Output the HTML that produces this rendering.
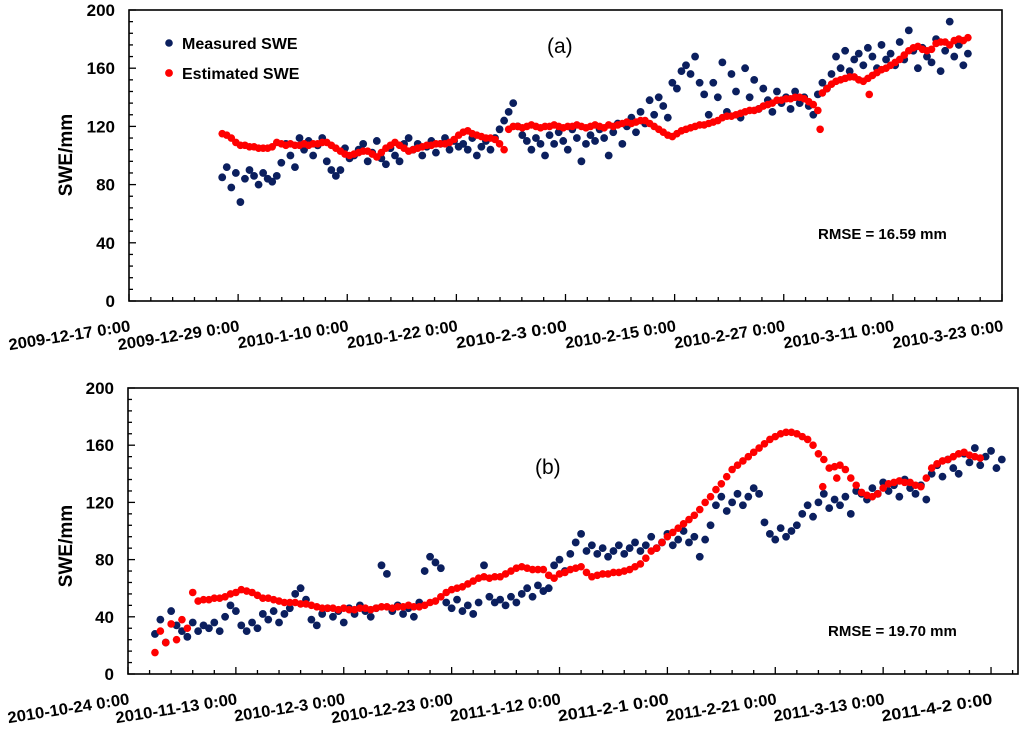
<!DOCTYPE html>
<html><head><meta charset="utf-8"><style>
body{margin:0;background:#fff;}
svg{display:block;font-family:"Liberation Sans",sans-serif;}
</style></head><body>
<svg id="c" width="1024" height="739" viewBox="0 0 1024 739"></svg>
<script>
// Panel (a) data: start day 10.25 after 2009-12-17, step 0.5 day
const measuredA = [85,92,78,88,68,84,90,86,80,88,84,82,86,
95,108,100,92,112,
104,110,100,107,112,96,90,
86,90,105,98,
100,104,108,96,102,110,98,94,105,100,96,108,
112,104,108,100,106,110,102,108,112,104,110,106,
108,104,112,100,106,110,104,112,
118,124,130,136,120,114,
110,104,112,108,100,114,108,116,110,104,118,112,96,108,114,110,118,112,
100,116,122,108,120,126,116,130,122,138,128,
140,134,126,150,146,158,162,156,168,150,142,
128,150,140,164,130,156,144,126,160,140,152,132,146,
138,130,144,136,140,132,144,
136,140,134,128,142,150,146,156,
168,160,172,158,166,170,162,174,168,160,176,166,
170,162,178,166,186,172,160,174,168,164,180,158,172,192,168,176,162,170];
const estimatedA = [115,114,112,109,107,107,106,106,105,105,105,106,109,108,107,108,107,107,108,107,108,108,109,109,107,105,103,101,100,101,102,103,103,101,99,102,105,107,109,107,105,103,104,105,106,107,107,108,108,108,109,111,114,116,117,115,114,113,112,112,111,108,104,118,120,
120,119,120,121,120,119,120,120,121,120,119,120,120,121,
120,119,120,121,120,119,121,120,121,122,123,122,123,124,124,122,120,118,116,114,113,115,117,118,119,120,121,121,122,123,124,126,127,127,128,129,130,131,131,132,134,135,136,138,138,139,139,140,140,139,137,135,131,143,146,149,151,152,153,154,154,152,151,153,155,157,159,160,162,164,166,169,172,174,175,173,172,173,177,178,178,176,179,180,179,181];
const outlierDaysA = [76.0, 81.4];
const outlierValsA = [118, 142];
// Panel (b) data: start day 5 after 2010-10-24, step 1 day
const measuredB = [28,38,22,44,34,30,26,36,30,34,32,36,30,40,48,44,34,30,36,32,42,38,44,36,42,46,56,60,52,38,34,42,46,40,44,36,46,42,48,44,40,46,76,70,44,48,42,46,40,50,72,82,78,74,50,46,52,44,48,42,50,76,54,50,52,48,54,50,56,60,54,62,58,60,76,80,72,84,92,98,86,90,84,88,82,86,90,84,88,92,86,90,96,88,92,98,90,94,100,92,96,82,94,104,118,124,114,120,126,118,124,130,126,106,98,94,102,96,100,104,112,118,110,120,126,116,122,118,124,112,128,126,122,130,126,134,128,132,124,136,130,126,132,122,140,146,138,150,144,140,154,148,158,146,152,156,144,150];
const estimatedB = [15,30,22,35,24,38,32,57,51,52,52,53,53,54,56,57,59,58,57,55,53,53,52,51,50,50,50,49,49,48,47,46,46,46,45,46,45,45,46,46,45,46,47,47,46,47,47,48,47,47,48,50,51,54,57,59,60,61,63,65,67,68,67,68,68,70,72,74,75,74,73,73,73,69,67,70,71,73,74,75,71,68,69,70,70,71,71,72,73,75,77,81,86,88,92,96,99,102,105,108,111,115,120,124,129,133,138,143,146,149,152,155,158,161,164,166,168,169,169,168,166,164,160,154,150,144,145,146,143,137,132,127,125,124,126,130,133,134,135,134,134,132,131,137,144,147,149,150,152,154,155,153,152,151];
const outlierDaysB = [128.8, 131.4];
const outlierValsB = [131, 137];
const yTicks = [0,40,80,120,160,200];
const xLabelsA = ["2009-12-17 0:00","2009-12-29 0:00","2010-1-10 0:00","2010-1-22 0:00","2010-2-3 0:00","2010-2-15 0:00","2010-2-27 0:00","2010-3-11 0:00","2010-3-23 0:00"];
const xLabelsB = ["2010-10-24 0:00","2010-11-13 0:00","2010-12-3 0:00","2010-12-23 0:00","2011-1-12 0:00","2011-2-1 0:00","2011-2-21 0:00","2011-3-13 0:00","2011-4-2 0:00"];

const NS="http://www.w3.org/2000/svg";
const svg=document.getElementById('c');
function mk(tag,attrs,parent){const e=document.createElementNS(NS,tag);for(const k in attrs)e.setAttribute(k,attrs[k]);(parent||svg).appendChild(e);return e;}
const B='font-weight:bold;fill:#000;';

function panel(p){
  const g=mk('g',{});
  
  
  const xs=d=>p.x0+(d/p.days)*(p.x1-p.x0);
  const ys=v=>p.yb-(v/200)*(p.yb-p.yt);
  const fr=mk('rect',{x:p.x0,y:p.yt,width:p.x1-p.x0,height:p.yb-p.yt,fill:'none',stroke:'#000','stroke-width':1.6},g);
  
  
  for(let v=0;v<=200;v+=8){
    const major=v%40===0;
    mk('line',{x1:p.x0,x2:p.x0+(major?7:4),y1:ys(v),y2:ys(v),stroke:'#000','stroke-width':1.3},g);
  }
  yTicks.forEach(v=>{
    const t=mk('text',{x:p.x0-14,y:ys(v)+6,'text-anchor':'end',style:B+'font-size:17px'},g);
    t.textContent=v;
    
    
  });
  const minor=p.step/5;
  for(let i=0;i*minor<=p.days+0.01;i++){
    const d=i*minor;const major=i%5===0;
    mk('line',{x1:xs(d),x2:xs(d),y1:p.yb,y2:p.yb-(major?7:4),stroke:'#000','stroke-width':1.3},g);
  }
  p.labels.forEach((s,i)=>{
    const x=xs(i*p.step)+2, y=p.yb+30;
    const t=mk('text',{x:x,y:y,'text-anchor':'end',style:B+'font-size:16px',transform:`rotate(-9 ${x} ${y})`,textLength:s.length>14?123:112,lengthAdjust:'spacingAndGlyphs'},g);
    t.textContent=s;
    
    
  });
  const yt=mk('text',{x:p.yTitleX,y:p.yTitleY,'text-anchor':'middle',style:B+'font-size:19px',transform:`rotate(-90 ${p.yTitleX} ${p.yTitleY})`},g);
  yt.textContent='SWE/mm';
  
  
  const gm=mk('g',{fill:'#0b1f5e'},g);
  
  
  p.meas.forEach((v,i)=>{
    const c=mk('circle',{cx:xs(p.start+i*p.dstep),cy:ys(v),r:3.9},gm);
    
    
  });
  const ge=mk('g',{fill:'#ff0000'},g);
  
  
  p.est.forEach((v,i)=>{
    const c=mk('circle',{cx:xs(p.start+i*p.dstep),cy:ys(v),r:3.8},ge);
    
    
  });
  p.od.forEach((d,i)=>{
    const c=mk('circle',{cx:xs(d),cy:ys(p.ov[i]),r:3.8},ge);
    
    
  });
  const lab=mk('text',{x:p.labX,y:p.labY,style:'font-size:21px;fill:#000'},g);
  lab.textContent=p.tag;
  
  
  const r=mk('text',{x:p.rX,y:p.rY,style:B+'font-size:15px'},g);
  r.textContent=p.rmse;
  
  
}
panel({name:'panel-a',x0:129,x1:1002,yt:10,yb:301,days:96,step:12,labels:xLabelsA,start:10.25,dstep:0.5,meas:measuredA,est:estimatedA,od:outlierDaysA,ov:outlierValsA,yTitleX:72,yTitleY:155,tag:'(a)',labX:547,labY:53,rX:818,rY:239,rmse:'RMSE = 16.59 mm'});
panel({name:'panel-b',x0:128,x1:1018,yt:388,yb:674,days:165,step:20,labels:xLabelsB,start:5,dstep:1,meas:measuredB,est:estimatedB,od:outlierDaysB,ov:outlierValsB,yTitleX:72,yTitleY:546,tag:'(b)',labX:535,labY:474,rX:828,rY:636,rmse:'RMSE = 19.70 mm'});
const lg=mk('g',{});


const l1=mk('circle',{cx:169,cy:43,r:3.8,fill:'#0b1f5e'},lg);


const t1=mk('text',{x:182,y:49,style:B+'font-size:16px'},lg);t1.textContent='Measured SWE';


const l2=mk('circle',{cx:169,cy:73,r:3.9,fill:'#ff0000'},lg);


const t2=mk('text',{x:182,y:79,style:B+'font-size:16px'},lg);t2.textContent='Estimated SWE';


</script>
</body></html>
